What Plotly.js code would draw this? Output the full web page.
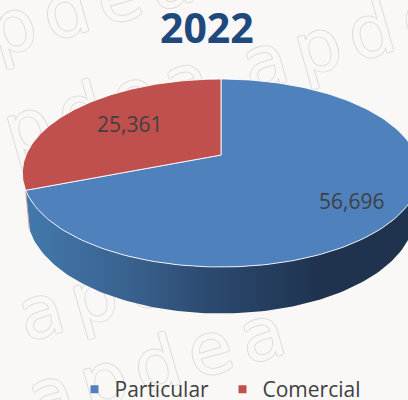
<!DOCTYPE html>
<html><head><meta charset="utf-8">
<script src="https://cdn.plot.ly/plotly-3.0.1.min.js"></script>
<style>html,body{margin:0;padding:0;background:#f9f8f6;overflow:hidden}#c{width:408px;height:410px}</style>
</head><body><div id="c"></div>
<script>
var categories = ['Particular', 'Comercial'];
var values = [56696, 25361];
var sliceColors = ['#4f81bd', '#c0504d'];
var chartTitle = '2022';
var watermarkText = 'apdea';

var BG = '#f9f8f6';
var total = values[0] + values[1];
var boundary = 2 * Math.PI * values[0] / total;

// perspective projection of the pie's top face
var CX = 221, CY = 155, R = 195, S = 90.55, K = 0.1915;
function project(theta) {
  var u = Math.sin(theta), v = Math.cos(theta), w = 1 + K * v;
  return [CX + R * u / w, CY - S * v / w];
}
function arc(a, b, n) {
  var pts = [];
  for (var i = 0; i <= n; i++) pts.push(project(a + (b - a) * i / n));
  return pts;
}
// lower rim of the side wall
var LX = 221, LY = 213.5, LRX = 194, LRY = 100;
function lowerRim(t) { return [LX + LRX * Math.cos(t), LY + LRY * Math.sin(t)]; }

function sliceTrace(a, b, color) {
  var pts = [[CX, CY]].concat(arc(a, b, 180));
  pts.push([CX, CY]);
  return {
    x: pts.map(function (p) { return p[0]; }),
    y: pts.map(function (p) { return p[1]; }),
    mode: 'lines', fill: 'toself', fillcolor: color,
    line: { color: 'rgba(255,255,255,0.85)', width: 1 },
    hoverinfo: 'skip', showlegend: false
  };
}

// side wall: top arc from the right edge round to the slice boundary, then back along the lower rim
var wallTop = arc(Math.PI * 0.5, boundary, 120);
var endT = Math.acos((30 - LX) / LRX);
var wallLow = [];
for (var i = 0; i <= 120; i++) wallLow.push(lowerRim(endT * (1 - i / 120)));
var wallPts = wallTop.concat(wallLow);
var wall = {
  x: wallPts.map(function (p) { return p[0]; }),
  y: wallPts.map(function (p) { return p[1]; }),
  mode: 'lines', fill: 'toself', line: { width: 0, color: 'rgba(0,0,0,0)' },
  fillgradient: {
    type: 'horizontal', start: 25, stop: 320,
    colorscale: [[0, '#4379ad'], [0.35, '#3a628f'], [0.62, '#2c4a70'], [1, '#1f334f']]
  },
  hoverinfo: 'skip', showlegend: false
};
// thin sliver of the red slice's wall on the far left
var sliverTop = project(boundary), sliverLow = lowerRim(endT);
var sliver = {
  x: [sliverTop[0], sliverLow[0] - 0.8], y: [sliverTop[1], sliverLow[1] - 2],
  mode: 'lines', line: { color: '#d58f8b', width: 0.8 }, hoverinfo: 'skip', showlegend: false
};

var legendTraces = categories.map(function (c, i) {
  return {
    x: [null], y: [null], name: c, mode: 'markers',
    marker: { symbol: 'square', size: 8, color: sliceColors[i] }, hoverinfo: 'skip'
  };
});

var traces = [wall, sliver, sliceTrace(0, boundary, sliceColors[0]),
  sliceTrace(boundary, 2 * Math.PI, sliceColors[1])].concat(legendTraces);

function fmt(n) { return n.toLocaleString('en-US'); }
var wmCenters = [[70, 10], [375, 30], [85, 110], [461, 95], [173, 176], [-115, 257],
  [151, 280], [439, 199], [161, 363], [465, 278], [505, 362]];
var annotations = wmCenters.map(function (p) {
  return {
    x: p[0], y: p[1], xref: 'x', yref: 'y', text: watermarkText, showarrow: false,
    textangle: -16, captureevents: false,
    font: { family: '"DejaVu Sans", sans-serif', size: 72, color: BG,
      shadow: '1px 0 0 #dedcd8, -1px 0 0 #dedcd8, 0 1px 0 #dedcd8, 0 -1px 0 #dedcd8' }
  };
});
var valueLabelPos = [[351, 201], [129, 124]];
values.forEach(function (v, i) {
  annotations.push({
    x: valueLabelPos[i][0], y: valueLabelPos[i][1], xref: 'x', yref: 'y', text: fmt(v), showarrow: false,
    font: { family: '"Open Sans", sans-serif', size: 21, color: '#404040' }
  });
});

var layout = {
  width: 408, height: 410,
  margin: { l: 0, r: 0, t: 0, b: 0 },
  paper_bgcolor: BG, plot_bgcolor: 'rgba(0,0,0,0)',
  title: { text: '<b>' + chartTitle + '</b>', x: 0.507, xanchor: 'center', y: 0.929, yanchor: 'middle',
    font: { family: '"Open Sans", sans-serif', size: 41, color: '#1f497d' } },
  xaxis: { range: [0, 408], visible: false, fixedrange: true },
  yaxis: { range: [410, 0], visible: false, fixedrange: true },
  showlegend: true,
  legend: { orientation: 'h', x: 74.5 / 408, xanchor: 'left', y: 0, yanchor: 'bottom',
    entrywidth: 103, entrywidthmode: 'pixels', bgcolor: 'rgba(0,0,0,0)',
    font: { family: '"Open Sans", sans-serif', size: 21, color: '#404040' } },
  annotations: annotations
};

Plotly.newPlot('c', traces, layout, { displayModeBar: false, staticPlot: true }).then(function () {
  // the watermark belongs behind the pie and is set with wide letter spacing
  var bg = document.querySelector('#c .bglayer');
  var nodes = document.querySelectorAll('#c .annotation');
  for (var i = 0; i < wmCenters.length; i++) {
    if (!bg || !nodes[i]) continue;
    var t = nodes[i].querySelector('text');
    if (t) t.style.letterSpacing = '10px';
    bg.appendChild(nodes[i]);
  }
});
</script></body></html>
